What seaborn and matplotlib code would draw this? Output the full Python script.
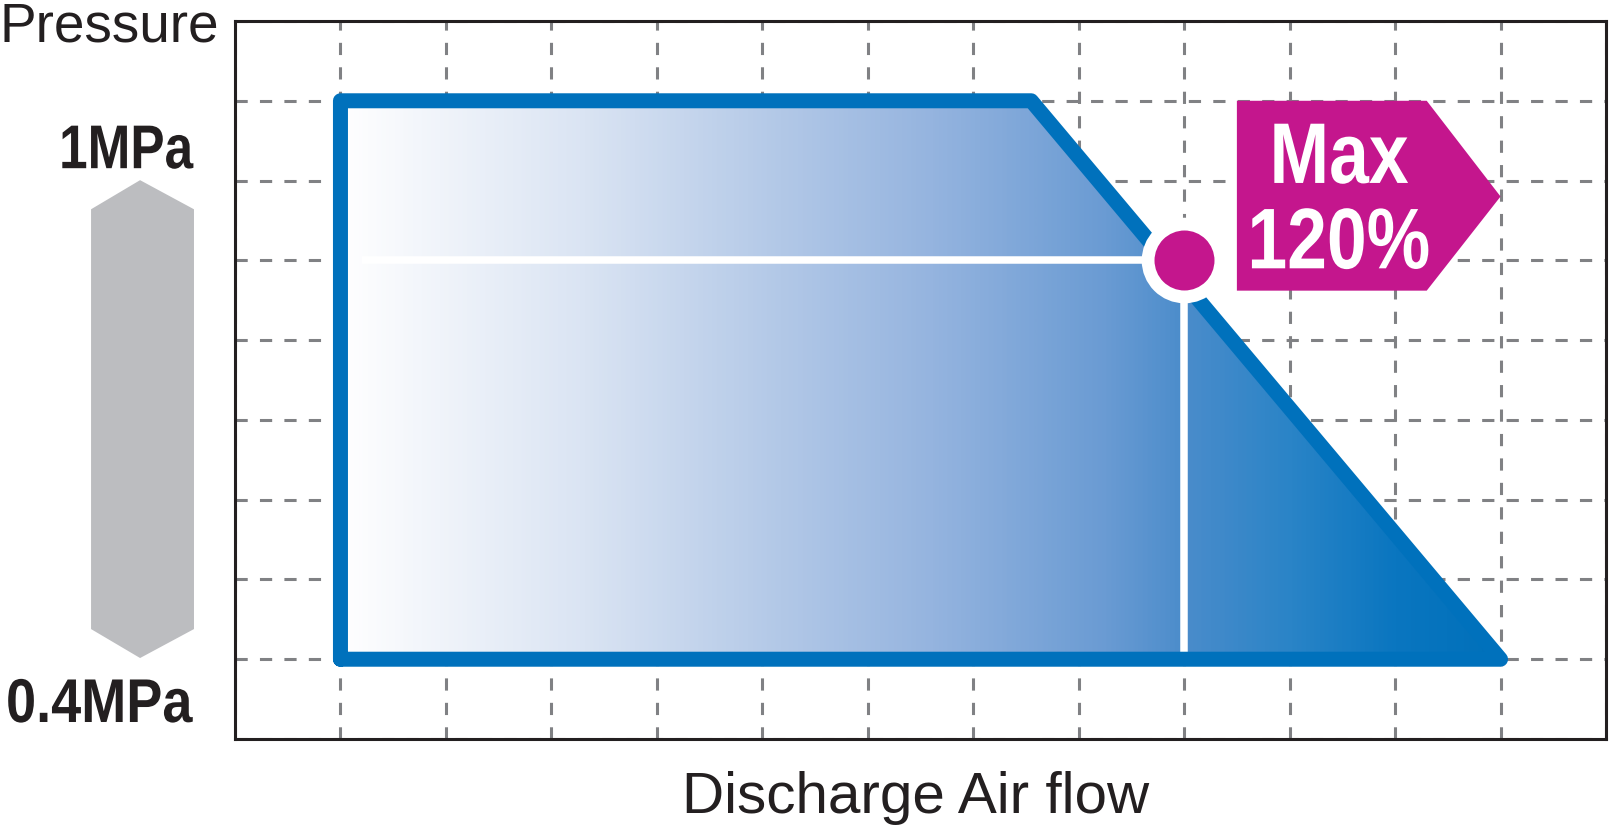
import numpy as np
import matplotlib
matplotlib.use("Agg")
import matplotlib.pyplot as plt
from matplotlib.colors import LinearSegmentedColormap
from matplotlib.patches import Polygon
from matplotlib.patheffects import AbstractPathEffect
from matplotlib.transforms import Affine2D
import seaborn as sns

# Operating range (grid units: discharge air flow vs pressure)
flow = [1, 1, 7.55, 12, 1]
pressure = [1, 8, 8, 1, 1]

# Point of maximum air flow (120%)
max_flow = 9
max_pressure = 6

label_top = "1MPa"
label_bottom = "0.4MPa"
label_max = ["Max", "120%"]
x_title = "Discharge Air flow"
y_title = "Pressure"

# colours
BLUE = "#0071BC"
MAGENTA = "#C4168D"
GREY = "#BCBDC0"
GRID = "#808184"
INK = "#231F20"


class Squeeze(AbstractPathEffect):
    """Narrow the glyphs horizontally (no condensed font installed)."""

    def __init__(self, sx):
        super().__init__()
        self.sx = sx

    def draw_path(self, renderer, gc, tpath, affine, rgbFace=None):
        renderer.draw_path(gc, tpath, Affine2D().scale(self.sx, 1) + affine, rgbFace)


sns.set_theme(style="white")
plt.rcParams["font.family"] = ["Liberation Sans", "DejaVu Sans"]
bold_narrow = dict(fontweight="bold", ha="left", va="baseline")

fig = plt.figure(figsize=(16.09, 8.26), dpi=100)
ax = fig.add_axes([235 / 1609, 87 / 826, 1371 / 1609, 718 / 826])
ax.set_xlim(0, 13)
ax.set_ylim(0, 9)
ax.set_xticks(range(14))
ax.set_yticks(range(10))
ax.tick_params(length=0, labelbottom=False, labelleft=False)
ax.grid(True, color=GRID, linewidth=2.2, linestyle=(0, (4, 4)), zorder=0.5)
ax.set_axisbelow(True)
for sp in ax.spines.values():
    sp.set_color(INK)
    sp.set_linewidth(2.2)

# gradient fill clipped to the operating area
stops = [(0.0, "#ffffff"), (0.21, "#dae4f3"), (0.38, "#b2c8e7"),
         (0.51, "#95b4df"), (0.66, "#6a9bd3"), (0.73, "#4a8ccb"),
         (0.82, "#2a84c7"), (0.91, "#0a76c0"), (1.0, "#0070ba")]
cmap = LinearSegmentedColormap.from_list("flow", stops)
area = Polygon(list(zip(flow, pressure)), closed=True, facecolor="none",
               edgecolor="none", transform=ax.transData)
ax.add_patch(area)
grad = np.linspace(0, 1, 512).reshape(1, -1)
img = ax.imshow(grad, cmap=cmap, extent=(min(flow), max(flow), min(pressure), max(pressure)),
                aspect="auto", origin="lower", zorder=1)
img.set_clip_path(area)

# white guide lines to the max point
ax.plot([min(flow) + 0.2, max_flow], [max_pressure, max_pressure], color="white",
        linewidth=5.4, zorder=2, solid_capstyle="butt")
ax.plot([max_flow, max_flow], [max_pressure, min(pressure)], color="white",
        linewidth=5.4, zorder=2, solid_capstyle="butt")

# outline
sns.lineplot(x=flow, y=pressure, sort=False, estimator=None, color=BLUE,
             linewidth=10.8, ax=ax, zorder=3,
             solid_joinstyle="round", solid_capstyle="round")

# max point
sns.scatterplot(x=[max_flow], y=[max_pressure], s=2746, color=MAGENTA,
                edgecolor="white", linewidth=9.2, ax=ax, zorder=5, legend=False)
ax.set_xlabel("")
ax.set_ylabel("")

# magenta tag
tag = Polygon([(9.5, 8.0), (11.3, 8.0), (12.0, 6.8), (11.3, 5.62), (9.5, 5.62)],
              closed=True, facecolor=MAGENTA, edgecolor="none", zorder=4)
ax.add_patch(tag)
ax.text(9.81, 6.97, label_max[0], color="white", fontsize=62, zorder=6,
        path_effects=[Squeeze(0.83)], **bold_narrow)
ax.text(9.60, 5.90, label_max[1], color="white", fontsize=62, zorder=6,
        path_effects=[Squeeze(0.83)], **bold_narrow)

# pressure range arrow on the left
hexa = Polygon([(-0.9, 7.005), (-0.389, 6.64), (-0.389, 1.378), (-0.9, 1.015),
                (-1.365, 1.378), (-1.365, 6.64)], closed=True, facecolor=GREY,
               edgecolor="none", clip_on=False)
ax.add_patch(hexa)
ax.text(-1.668, 7.155, label_top, color=INK, fontsize=44.5, clip_on=False,
        path_effects=[Squeeze(0.83)], **bold_narrow)
ax.text(-2.171, 0.213, label_bottom, color=INK, fontsize=44.5, clip_on=False,
        path_effects=[Squeeze(0.875)], **bold_narrow)

# axis titles
fig.text(0.5693, 0.0157, x_title, fontsize=42, color=INK, ha="center", va="baseline")
fig.text(0.0, 0.9492, y_title, fontsize=39.5, color=INK, ha="left", va="baseline")

fig.savefig("out.png", dpi=100)
